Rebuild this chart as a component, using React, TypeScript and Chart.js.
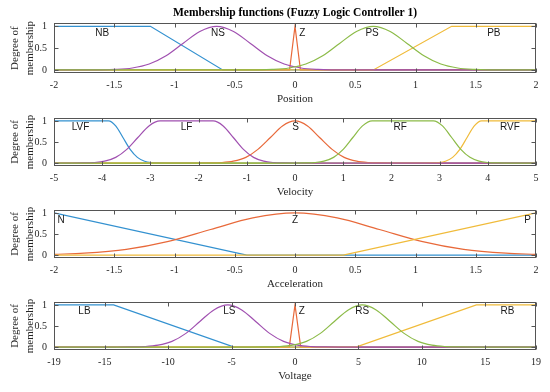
import React, { useEffect, useRef } from "react";
import { Chart, registerables } from "chart.js";

Chart.register(...registerables);

// ---------- tick values ----------
const positionTicks = [-2, -1.5, -1, -0.5, 0, 0.5, 1, 1.5, 2];
const velocityTicks = [-5, -4, -3, -2, -1, 0, 1, 2, 3, 4, 5];
const accelerationTicks = [-2, -1.5, -1, -0.5, 0, 0.5, 1, 1.5, 2];
const voltageTicks = [-19, -15, -10, -5, 0, 5, 10, 15, 19];
const degreeTicks = [0, 0.5, 1];

// ---------- Position ----------
const posX_NB = [-2, -1.2, -0.6, 2];
const posY_NB = [1, 1, 0, 0];
const posX_Z = [-2, -0.045, 0, 0.045, 2];
const posY_Z = [0, 0, 1, 0, 0];
const posX_PB = [-2, 0.65, 1.3, 2];
const posY_PB = [0, 0, 1, 1];
const posX_NS = [-2, -1.77, -1.63, -1.49, -1.35, -1.21, -1.07, -0.93, -0.79, -0.65, -0.51, -0.37, -0.23, -0.09, 0.05, 0.19, 0.33, 0.47, 2];
const posY_NS = [0, 0, 0.002, 0.011, 0.044, 0.135, 0.325, 0.607, 0.882, 1, 0.882, 0.607, 0.325, 0.135, 0.044, 0.011, 0.002, 0, 0];
const posX_PS = [-2, -0.47, -0.33, -0.19, -0.05, 0.09, 0.23, 0.37, 0.51, 0.65, 0.79, 0.93, 1.07, 1.21, 1.35, 1.49, 1.63, 1.77, 2];
const posY_PS = [0, 0, 0.002, 0.011, 0.044, 0.135, 0.325, 0.607, 0.882, 1, 0.882, 0.607, 0.325, 0.135, 0.044, 0.011, 0.002, 0, 0];
const posNames = ["NB", "NS", "Z", "PS", "PB"];
const posNameX = [-1.6, -0.64, 0.06, 0.64, 1.65];

// ---------- Velocity ----------
const velX_LVF = [-5, -3.87, -3.72, -3.57, -3.42, -3.27, -3.12, -2.97, -2.82, -2.67, 5];
const velY_LVF = [1, 1, 0.882, 0.607, 0.325, 0.135, 0.044, 0.011, 0.002, 0, 0];
const velX_S = [-5, -2.04, -1.79, -1.53, -1.28, -1.02, -0.77, -0.51, -0.26, 0, 0.26, 0.51, 0.77, 1.02, 1.28, 1.53, 1.79, 2.04, 5];
const velY_S = [0, 0, 0.002, 0.011, 0.044, 0.135, 0.325, 0.607, 0.882, 1, 0.882, 0.607, 0.325, 0.135, 0.044, 0.011, 0.002, 0, 0];
const velX_RVF = [-5, 2.67, 2.82, 2.97, 3.12, 3.27, 3.42, 3.57, 3.72, 3.87, 5];
const velY_RVF = [0, 0, 0.002, 0.011, 0.044, 0.135, 0.325, 0.607, 0.882, 1, 1];
const velX_LF = [-5, -4.64, -4.41, -4.18, -3.95, -3.72, -3.49, -3.26, -3.03, -2.8, -1.7, -1.49, -1.28, -1.07, -0.86, -0.65, -0.44, -0.23, -0.02, 5];
const velY_LF = [0, 0, 0.002, 0.011, 0.044, 0.135, 0.325, 0.607, 0.882, 1, 1, 0.882, 0.607, 0.325, 0.135, 0.044, 0.011, 0.002, 0, 0];
const velX_RF = [-5, 0, 0.2, 0.4, 0.6, 0.8, 1.0, 1.2, 1.4, 1.6, 2.87, 3.06, 3.25, 3.44, 3.63, 3.82, 4.01, 4.2, 4.39, 5];
const velY_RF = [0, 0, 0.002, 0.011, 0.044, 0.135, 0.325, 0.607, 0.882, 1, 1, 0.882, 0.607, 0.325, 0.135, 0.044, 0.011, 0.002, 0, 0];
const velNames = ["LVF", "LF", "S", "RF", "RVF"];
const velNameX = [-4.45, -2.25, 0.01, 2.18, 4.46];

// ---------- Acceleration ----------
const accX_N = [-2, -0.4, 2];
const accY_N = [1, 0, 0];
const accX_Z = [-2, -1.75, -1.4, -1.05, -0.7, -0.35, 0, 0.35, 0.7, 1.05, 1.4, 1.75, 2];
const accY_Z = [0.017, 0.044, 0.135, 0.325, 0.607, 0.882, 1, 0.882, 0.607, 0.325, 0.135, 0.044, 0.017];
const accX_P = [-2, 0.4, 2];
const accY_P = [0, 0, 1];
const accNames = ["N", "Z", "P"];
const accNameX = [-1.94, 0, 1.93];

// ---------- Voltage ----------
const voltX_LB = [-19, -14.3, -4.8, 19];
const voltY_LB = [1, 1, 0, 0];
const voltX_Z = [-19, -0.45, 0, 0.45, 19];
const voltY_Z = [0, 0, 1, 0, 0];
const voltX_RB = [-19, 4.8, 14.3, 19];
const voltY_RB = [0, 0, 1, 1];
const voltX_LS = [-19, -14.1, -13.0, -11.9, -10.8, -9.7, -8.6, -7.5, -6.4, -5.3, -4.2, -3.1, -2.0, -0.9, 0.2, 1.3, 2.4, 3.5, 19];
const voltY_LS = [0, 0, 0.002, 0.011, 0.044, 0.135, 0.325, 0.607, 0.882, 1, 0.882, 0.607, 0.325, 0.135, 0.044, 0.011, 0.002, 0, 0];
const voltX_RS = [-19, -3.5, -2.4, -1.3, -0.2, 0.9, 2.0, 3.1, 4.2, 5.3, 6.4, 7.5, 8.6, 9.7, 10.8, 11.9, 13.0, 14.1, 19];
const voltY_RS = [0, 0, 0.002, 0.011, 0.044, 0.135, 0.325, 0.607, 0.882, 1, 0.882, 0.607, 0.325, 0.135, 0.044, 0.011, 0.002, 0, 0];
const voltNames = ["LB", "LS", "Z", "RS", "RB"];
const voltNameX = [-16.6, -5.17, 0.53, 5.3, 16.75];

// ---------- styling ----------
const BLUE = "#3391d0";
const ORANGE = "#e8693a";
const YELLOW = "#f0bb3a";
const PURPLE = "#a050b0";
const GREEN = "#8cbb48";
const SERIF = "'Liberation Serif', 'Times New Roman', serif";
const SANS = "'Liberation Sans', Arial, sans-serif";
const TEXT = "#262626";

type Curve = { xs: number[]; ys: number[]; color: string; smooth: boolean };
type Sub = {
  title?: string;
  xLabel: string;
  min: number;
  max: number;
  ticks: number[];
  curves: Curve[];
  names: string[];
  nameX: number[];
  nameY: number;
  canvasTop: number;
  canvasHeight: number;
};

const subs: Sub[] = [
  {
    title: "Membership functions (Fuzzy Logic Controller 1)",
    xLabel: "Position",
    min: -2,
    max: 2,
    ticks: positionTicks,
    curves: [
      { xs: posX_NB, ys: posY_NB, color: BLUE, smooth: false },
      { xs: posX_Z, ys: posY_Z, color: ORANGE, smooth: false },
      { xs: posX_PB, ys: posY_PB, color: YELLOW, smooth: false },
      { xs: posX_NS, ys: posY_NS, color: PURPLE, smooth: true },
      { xs: posX_PS, ys: posY_PS, color: GREEN, smooth: true },
    ],
    names: posNames,
    nameX: posNameX,
    nameY: 0.84,
    canvasTop: 0,
    canvasHeight: 109,
  },
  {
    xLabel: "Velocity",
    min: -5,
    max: 5,
    ticks: velocityTicks,
    curves: [
      { xs: velX_LVF, ys: velY_LVF, color: BLUE, smooth: true },
      { xs: velX_S, ys: velY_S, color: ORANGE, smooth: true },
      { xs: velX_RVF, ys: velY_RVF, color: YELLOW, smooth: true },
      { xs: velX_LF, ys: velY_LF, color: PURPLE, smooth: true },
      { xs: velX_RF, ys: velY_RF, color: GREEN, smooth: true },
    ],
    names: velNames,
    nameX: velNameX,
    nameY: 0.84,
    canvasTop: 105,
    canvasHeight: 97,
  },
  {
    xLabel: "Acceleration",
    min: -2,
    max: 2,
    ticks: accelerationTicks,
    curves: [
      { xs: accX_N, ys: accY_N, color: BLUE, smooth: false },
      { xs: accX_Z, ys: accY_Z, color: ORANGE, smooth: true },
      { xs: accX_P, ys: accY_P, color: YELLOW, smooth: false },
    ],
    names: accNames,
    nameX: accNameX,
    nameY: 0.82,
    canvasTop: 197,
    canvasHeight: 97,
  },
  {
    xLabel: "Voltage",
    min: -19,
    max: 19,
    ticks: voltageTicks,
    curves: [
      { xs: voltX_LB, ys: voltY_LB, color: BLUE, smooth: false },
      { xs: voltX_Z, ys: voltY_Z, color: ORANGE, smooth: false },
      { xs: voltX_RB, ys: voltY_RB, color: YELLOW, smooth: false },
      { xs: voltX_LS, ys: voltY_LS, color: PURPLE, smooth: true },
      { xs: voltX_RS, ys: voltY_RS, color: GREEN, smooth: true },
    ],
    names: voltNames,
    nameX: voltNameX,
    nameY: 0.84,
    canvasTop: 289,
    canvasHeight: 97,
  },
];

const boxPlugin = {
  id: "matlabBox",
  afterDatasetsDraw(chart: any) {
    const { ctx, chartArea: a, scales } = chart;
    ctx.save();
    ctx.strokeStyle = "#555555";
    ctx.lineWidth = 1;
    const L = Math.round(a.left) + 0.5;
    const R = Math.round(a.right) - 0.5;
    const T = Math.round(a.top) + 0.5;
    const B = Math.round(a.bottom) - 0.5;
    ctx.strokeRect(L, T, R - L, B - T);
    ctx.beginPath();
    scales.x.ticks.forEach((t: any) => {
      const px = Math.round(scales.x.getPixelForValue(t.value)) + 0.5;
      ctx.moveTo(px, B);
      ctx.lineTo(px, B - 4);
      ctx.moveTo(px, T);
      ctx.lineTo(px, T + 4);
    });
    scales.y.ticks.forEach((t: any) => {
      const py = Math.round(scales.y.getPixelForValue(t.value)) + 0.5;
      ctx.moveTo(L, py);
      ctx.lineTo(L + 4, py);
      ctx.moveTo(R, py);
      ctx.lineTo(R - 4, py);
    });
    ctx.stroke();
    ctx.restore();
  },
};

function makeLabelPlugin(names: string[], xs: number[], y: number) {
  return {
    id: "mfLabels",
    afterDatasetsDraw(chart: any) {
      const { ctx, scales } = chart;
      ctx.save();
      ctx.font = `10px ${SANS}`;
      ctx.fillStyle = "#1a1a1a";
      ctx.textAlign = "center";
      ctx.textBaseline = "middle";
      names.forEach((n, i) => {
        ctx.fillText(n, scales.x.getPixelForValue(xs[i]), scales.y.getPixelForValue(y));
      });
      ctx.restore();
    },
  };
}

function SubChart({ sub }: { sub: Sub }) {
  const ref = useRef<HTMLCanvasElement | null>(null);
  useEffect(() => {
    if (!ref.current) return;
    const n = sub.curves.length;
    const chart = new Chart(ref.current, {
      type: "line",
      data: {
        datasets: sub.curves.map((c, i) => ({
          data: c.xs.map((x, j) => ({ x, y: c.ys[j] })),
          borderColor: c.color,
          borderWidth: 1.2,
          pointRadius: 0,
          fill: false,
          tension: 0,
          cubicInterpolationMode: c.smooth ? "monotone" : "default",
          order: n - i,
        })),
      } as any,
      options: {
        animation: false,
        responsive: false,
        maintainAspectRatio: false,
        layout: { padding: { top: sub.title ? 0 : 10, right: 14, left: 0, bottom: 0 } },
        plugins: {
          legend: { display: false },
          tooltip: { enabled: false },
          title: sub.title
            ? {
                display: true,
                text: sub.title,
                font: { family: SERIF, size: 11.5, weight: "bold", lineHeight: 1.15 },
                color: "#000000",
                padding: { top: 6, bottom: 4 },
                fullSize: false,
              }
            : { display: false },
        },
        scales: {
          x: {
            type: "linear",
            min: sub.min,
            max: sub.max,
            grid: { display: false, drawTicks: false },
            border: { display: false },
            ticks: {
              font: { family: SERIF, size: 10 },
              color: TEXT,
              padding: 6,
              maxRotation: 0,
              autoSkip: false,
              callback: (v: any) => String(v),
            },
            afterBuildTicks: (s: any) => {
              s.ticks = sub.ticks.map((v) => ({ value: v }));
            },
            afterFit: (s: any) => {
              s.height = 36;
            },
            title: {
              display: true,
              text: sub.xLabel,
              font: { family: SERIF, size: 11 },
              color: TEXT,
              padding: { top: 0, bottom: 3 },
            },
          },
          y: {
            type: "linear",
            min: -0.07,
            max: 1.07,
            grid: { display: false, drawTicks: false },
            border: { display: false },
            ticks: {
              font: { family: SERIF, size: 10 },
              color: TEXT,
              padding: 7,
              callback: (v: any) => String(v),
            },
            afterBuildTicks: (s: any) => {
              s.ticks = degreeTicks.map((v) => ({ value: v }));
            },
            afterFit: (s: any) => {
              s.width = 54;
            },
            title: {
              display: true,
              text: ["Degree of", "membership"],
              font: { family: SERIF, size: 11, lineHeight: 1.35 },
              color: TEXT,
              padding: { top: 8, bottom: 0 },
            },
          },
        },
      } as any,
      plugins: [boxPlugin, makeLabelPlugin(sub.names, sub.nameX, sub.nameY)],
    });
    return () => chart.destroy();
  }, [sub]);
  return (
    <canvas
      ref={ref}
      width={550}
      height={sub.canvasHeight}
      style={{ position: "absolute", left: 0, top: sub.canvasTop, width: 550, height: sub.canvasHeight }}
    />
  );
}

export default function App() {
  return (
    <div style={{ position: "absolute", left: 0, top: 0, width: 550, height: 392, background: "#ffffff" }}>
      {subs.map((s, i) => (
        <SubChart key={i} sub={s} />
      ))}
    </div>
  );
}
